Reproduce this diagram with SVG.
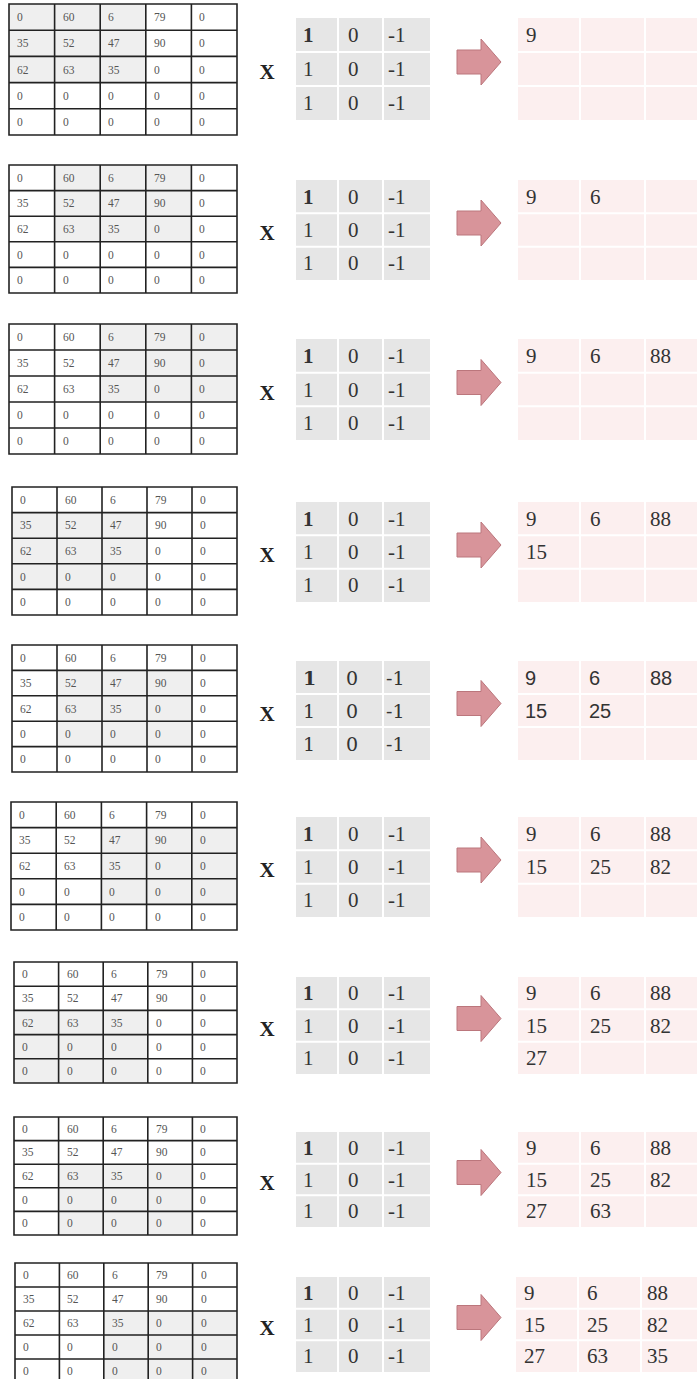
<svg xmlns="http://www.w3.org/2000/svg" width="697" height="1379" viewBox="0 0 697 1379">
<style>
.g{font-family:"Liberation Serif",serif;font-size:11.5px;fill:#555}
.k{font-family:"Liberation Serif",serif;font-size:21px;fill:#333}
.ks{font-family:"DejaVu Serif",serif;font-size:19px;fill:#333}
.os{font-family:"Liberation Sans",sans-serif;font-size:20px;fill:#333}
.x{font-family:"Liberation Serif",serif;font-size:21px;font-weight:bold;fill:#222;text-anchor:middle}
.gl{fill:none;stroke:#222;stroke-width:1.6}
.sh{fill:#efefef}
.kb{fill:#e6e6e6}
.ob{fill:#fcefef}
.sep{fill:none;stroke:#fff;stroke-width:2}
.ar{fill:#d8949a;stroke:#bb767c;stroke-width:1}
</style>
<rect width="697" height="1379" fill="#fff"/>

<!-- Panel 1 -->
<g id="p1-input">
<rect class="sh" x="9" y="4" width="136.8" height="78.6"/>
<path class="gl" d="M9,4H237V135H9Z M54.6,4V135 M100.2,4V135 M145.8,4V135 M191.4,4V135 M9,30.2H237 M9,56.4H237 M9,82.6H237 M9,108.8H237"/>
<text class="g" y="21"><tspan x="17">0</tspan><tspan x="63">60</tspan><tspan x="108">6</tspan><tspan x="154">79</tspan><tspan x="199">0</tspan></text>
<text class="g" y="47"><tspan x="17">35</tspan><tspan x="63">52</tspan><tspan x="108">47</tspan><tspan x="154">90</tspan><tspan x="199">0</tspan></text>
<text class="g" y="74"><tspan x="17">62</tspan><tspan x="63">63</tspan><tspan x="108">35</tspan><tspan x="154">0</tspan><tspan x="199">0</tspan></text>
<text class="g" y="100"><tspan x="17">0</tspan><tspan x="63">0</tspan><tspan x="108">0</tspan><tspan x="154">0</tspan><tspan x="199">0</tspan></text>
<text class="g" y="126"><tspan x="17">0</tspan><tspan x="63">0</tspan><tspan x="108">0</tspan><tspan x="154">0</tspan><tspan x="199">0</tspan></text>
</g>
<g id="p1-kernel">
<text class="x" x="267" y="79">X</text>
<rect class="kb" x="296" y="18" width="134" height="102"/>
<path class="sep" d="M338,18V120 M383,18V120 M296,52H430 M296,86H430"/>
<text class="k" y="42"><tspan x="303" font-weight="bold">1</tspan><tspan x="348">0</tspan><tspan x="388">-1</tspan></text>
<text class="k" y="76"><tspan x="303">1</tspan><tspan x="348">0</tspan><tspan x="388">-1</tspan></text>
<text class="k" y="110"><tspan x="303">1</tspan><tspan x="348">0</tspan><tspan x="388">-1</tspan></text>
</g>
<g id="p1-output">
<rect class="ob" x="518" y="18" width="182" height="102"/>
<path class="sep" d="M580,18V120 M645,18V120 M518,52H700 M518,86H700"/>
<text class="k" y="42"><tspan x="526">9</tspan></text>
</g>

<!-- Panel 2 -->
<g id="p2-input">
<rect class="sh" x="54.6" y="165" width="136.8" height="76.8"/>
<path class="gl" d="M9,165H237V293H9Z M54.6,165V293 M100.2,165V293 M145.8,165V293 M191.4,165V293 M9,190.6H237 M9,216.2H237 M9,241.8H237 M9,267.4H237"/>
<text class="g" y="182"><tspan x="17">0</tspan><tspan x="63">60</tspan><tspan x="108">6</tspan><tspan x="154">79</tspan><tspan x="199">0</tspan></text>
<text class="g" y="207"><tspan x="17">35</tspan><tspan x="63">52</tspan><tspan x="108">47</tspan><tspan x="154">90</tspan><tspan x="199">0</tspan></text>
<text class="g" y="233"><tspan x="17">62</tspan><tspan x="63">63</tspan><tspan x="108">35</tspan><tspan x="154">0</tspan><tspan x="199">0</tspan></text>
<text class="g" y="259"><tspan x="17">0</tspan><tspan x="63">0</tspan><tspan x="108">0</tspan><tspan x="154">0</tspan><tspan x="199">0</tspan></text>
<text class="g" y="284"><tspan x="17">0</tspan><tspan x="63">0</tspan><tspan x="108">0</tspan><tspan x="154">0</tspan><tspan x="199">0</tspan></text>
</g>
<g id="p2-kernel">
<text class="x" x="267" y="240">X</text>
<rect class="kb" x="296" y="180" width="134" height="100"/>
<path class="sep" d="M338,180V280 M383,180V280 M296,213.3H430 M296,246.7H430"/>
<text class="k" y="204"><tspan x="303" font-weight="bold">1</tspan><tspan x="348">0</tspan><tspan x="388">-1</tspan></text>
<text class="k" y="237"><tspan x="303">1</tspan><tspan x="348">0</tspan><tspan x="388">-1</tspan></text>
<text class="k" y="270"><tspan x="303">1</tspan><tspan x="348">0</tspan><tspan x="388">-1</tspan></text>
</g>
<g id="p2-output">
<rect class="ob" x="518" y="180" width="182" height="100"/>
<path class="sep" d="M580,180V280 M645,180V280 M518,213.3H700 M518,246.7H700"/>
<text class="k" y="204"><tspan x="526">9</tspan><tspan x="590">6</tspan></text>
</g>

<!-- Panel 3 -->
<g id="p3-input">
<rect class="sh" x="100.2" y="324" width="136.8" height="78"/>
<path class="gl" d="M9,324H237V454H9Z M54.6,324V454 M100.2,324V454 M145.8,324V454 M191.4,324V454 M9,350H237 M9,376H237 M9,402H237 M9,428H237"/>
<text class="g" y="341"><tspan x="17">0</tspan><tspan x="63">60</tspan><tspan x="108">6</tspan><tspan x="154">79</tspan><tspan x="199">0</tspan></text>
<text class="g" y="367"><tspan x="17">35</tspan><tspan x="63">52</tspan><tspan x="108">47</tspan><tspan x="154">90</tspan><tspan x="199">0</tspan></text>
<text class="g" y="393"><tspan x="17">62</tspan><tspan x="63">63</tspan><tspan x="108">35</tspan><tspan x="154">0</tspan><tspan x="199">0</tspan></text>
<text class="g" y="419"><tspan x="17">0</tspan><tspan x="63">0</tspan><tspan x="108">0</tspan><tspan x="154">0</tspan><tspan x="199">0</tspan></text>
<text class="g" y="445"><tspan x="17">0</tspan><tspan x="63">0</tspan><tspan x="108">0</tspan><tspan x="154">0</tspan><tspan x="199">0</tspan></text>
</g>
<g id="p3-kernel">
<text class="x" x="267" y="399.5">X</text>
<rect class="kb" x="296" y="339" width="134" height="101"/>
<path class="sep" d="M338,339V440 M383,339V440 M296,372.7H430 M296,406.3H430"/>
<text class="k" y="363"><tspan x="303" font-weight="bold">1</tspan><tspan x="348">0</tspan><tspan x="388">-1</tspan></text>
<text class="k" y="396.5"><tspan x="303">1</tspan><tspan x="348">0</tspan><tspan x="388">-1</tspan></text>
<text class="k" y="430"><tspan x="303">1</tspan><tspan x="348">0</tspan><tspan x="388">-1</tspan></text>
</g>
<g id="p3-output">
<rect class="ob" x="518" y="339" width="182" height="101"/>
<path class="sep" d="M580,339V440 M645,339V440 M518,372.7H700 M518,406.3H700"/>
<text class="k" y="363"><tspan x="526">9</tspan><tspan x="590">6</tspan><tspan x="650">88</tspan></text>
</g>

<!-- Panel 4 -->
<g id="p4-input">
<rect class="sh" x="12" y="512.6" width="135" height="76.8"/>
<path class="gl" d="M12,487H237V615H12Z M57,487V615 M102,487V615 M147,487V615 M192,487V615 M12,512.6H237 M12,538.2H237 M12,563.8H237 M12,589.4H237"/>
<text class="g" y="504"><tspan x="20">0</tspan><tspan x="65">60</tspan><tspan x="110">6</tspan><tspan x="155">79</tspan><tspan x="200">0</tspan></text>
<text class="g" y="529"><tspan x="20">35</tspan><tspan x="65">52</tspan><tspan x="110">47</tspan><tspan x="155">90</tspan><tspan x="200">0</tspan></text>
<text class="g" y="555"><tspan x="20">62</tspan><tspan x="65">63</tspan><tspan x="110">35</tspan><tspan x="155">0</tspan><tspan x="200">0</tspan></text>
<text class="g" y="581"><tspan x="20">0</tspan><tspan x="65">0</tspan><tspan x="110">0</tspan><tspan x="155">0</tspan><tspan x="200">0</tspan></text>
<text class="g" y="606"><tspan x="20">0</tspan><tspan x="65">0</tspan><tspan x="110">0</tspan><tspan x="155">0</tspan><tspan x="200">0</tspan></text>
</g>
<g id="p4-kernel">
<text class="x" x="267" y="562">X</text>
<rect class="kb" x="296" y="502" width="134" height="100"/>
<path class="sep" d="M338,502V602 M383,502V602 M296,535.3H430 M296,568.7H430"/>
<text class="k" y="526"><tspan x="303" font-weight="bold">1</tspan><tspan x="348">0</tspan><tspan x="388">-1</tspan></text>
<text class="k" y="559"><tspan x="303">1</tspan><tspan x="348">0</tspan><tspan x="388">-1</tspan></text>
<text class="k" y="592"><tspan x="303">1</tspan><tspan x="348">0</tspan><tspan x="388">-1</tspan></text>
</g>
<g id="p4-output">
<rect class="ob" x="518" y="502" width="182" height="100"/>
<path class="sep" d="M580,502V602 M645,502V602 M518,535.3H700 M518,568.7H700"/>
<text class="k" y="526"><tspan x="526">9</tspan><tspan x="590">6</tspan><tspan x="650">88</tspan></text>
<text class="k" y="559"><tspan x="526">15</tspan></text>
</g>

<!-- Panel 5 -->
<g id="p5-input">
<rect class="sh" x="57" y="670.4" width="135" height="76.2"/>
<path class="gl" d="M12,645H237V772H12Z M57,645V772 M102,645V772 M147,645V772 M192,645V772 M12,670.4H237 M12,695.8H237 M12,721.2H237 M12,746.6H237"/>
<text class="g" y="662"><tspan x="20">0</tspan><tspan x="65">60</tspan><tspan x="110">6</tspan><tspan x="155">79</tspan><tspan x="200">0</tspan></text>
<text class="g" y="687"><tspan x="20">35</tspan><tspan x="65">52</tspan><tspan x="110">47</tspan><tspan x="155">90</tspan><tspan x="200">0</tspan></text>
<text class="g" y="712.5"><tspan x="20">62</tspan><tspan x="65">63</tspan><tspan x="110">35</tspan><tspan x="155">0</tspan><tspan x="200">0</tspan></text>
<text class="g" y="738"><tspan x="20">0</tspan><tspan x="65">0</tspan><tspan x="110">0</tspan><tspan x="155">0</tspan><tspan x="200">0</tspan></text>
<text class="g" y="763"><tspan x="20">0</tspan><tspan x="65">0</tspan><tspan x="110">0</tspan><tspan x="155">0</tspan><tspan x="200">0</tspan></text>
</g>
<g id="p5-kernel">
<text class="x" x="267" y="720.5">X</text>
<rect class="kb" x="296" y="661" width="134" height="99"/>
<path class="sep" d="M338,661V760 M383,661V760 M296,694H430 M296,727H430"/>
<text class="ks" y="684.5"><tspan x="303" font-weight="bold">1</tspan><tspan x="346">0</tspan><tspan x="386">-1</tspan></text>
<text class="ks" y="717.5"><tspan x="303">1</tspan><tspan x="346">0</tspan><tspan x="386">-1</tspan></text>
<text class="ks" y="750.5"><tspan x="303">1</tspan><tspan x="346">0</tspan><tspan x="386">-1</tspan></text>
</g>
<g id="p5-output">
<rect class="ob" x="518" y="661" width="182" height="99"/>
<path class="sep" d="M580,661V760 M645,661V760 M518,694H700 M518,727H700"/>
<text class="os" y="684.5"><tspan x="525">9</tspan><tspan x="589">6</tspan><tspan x="650">88</tspan></text>
<text class="os" y="717.5"><tspan x="525">15</tspan><tspan x="589">25</tspan></text>
</g>

<!-- Panel 6 -->
<g id="p6-input">
<rect class="sh" x="101.4" y="827.6" width="135.6" height="76.8"/>
<path class="gl" d="M11,802H237V930H11Z M56.2,802V930 M101.4,802V930 M146.6,802V930 M191.8,802V930 M11,827.6H237 M11,853.2H237 M11,878.8H237 M11,904.4H237"/>
<text class="g" y="819"><tspan x="19">0</tspan><tspan x="64">60</tspan><tspan x="109">6</tspan><tspan x="155">79</tspan><tspan x="200">0</tspan></text>
<text class="g" y="844"><tspan x="19">35</tspan><tspan x="64">52</tspan><tspan x="109">47</tspan><tspan x="155">90</tspan><tspan x="200">0</tspan></text>
<text class="g" y="870"><tspan x="19">62</tspan><tspan x="64">63</tspan><tspan x="109">35</tspan><tspan x="155">0</tspan><tspan x="200">0</tspan></text>
<text class="g" y="896"><tspan x="19">0</tspan><tspan x="64">0</tspan><tspan x="109">0</tspan><tspan x="155">0</tspan><tspan x="200">0</tspan></text>
<text class="g" y="921"><tspan x="19">0</tspan><tspan x="64">0</tspan><tspan x="109">0</tspan><tspan x="155">0</tspan><tspan x="200">0</tspan></text>
</g>
<g id="p6-kernel">
<text class="x" x="267" y="877">X</text>
<rect class="kb" x="296" y="817" width="134" height="100"/>
<path class="sep" d="M338,817V917 M383,817V917 M296,850.3H430 M296,883.7H430"/>
<text class="k" y="841"><tspan x="303" font-weight="bold">1</tspan><tspan x="348">0</tspan><tspan x="388">-1</tspan></text>
<text class="k" y="874"><tspan x="303">1</tspan><tspan x="348">0</tspan><tspan x="388">-1</tspan></text>
<text class="k" y="907"><tspan x="303">1</tspan><tspan x="348">0</tspan><tspan x="388">-1</tspan></text>
</g>
<g id="p6-output">
<rect class="ob" x="518" y="817" width="182" height="100"/>
<path class="sep" d="M580,817V917 M645,817V917 M518,850.3H700 M518,883.7H700"/>
<text class="k" y="841"><tspan x="526">9</tspan><tspan x="590">6</tspan><tspan x="650">88</tspan></text>
<text class="k" y="874"><tspan x="526">15</tspan><tspan x="590">25</tspan><tspan x="650">82</tspan></text>
</g>

<!-- Panel 7 -->
<g id="p7-input">
<rect class="sh" x="14" y="1010.4" width="133.8" height="72.6"/>
<path class="gl" d="M14,962H237V1083H14Z M58.6,962V1083 M103.2,962V1083 M147.8,962V1083 M192.4,962V1083 M14,986.2H237 M14,1010.4H237 M14,1034.6H237 M14,1058.8H237"/>
<text class="g" y="978"><tspan x="22">0</tspan><tspan x="67">60</tspan><tspan x="111">6</tspan><tspan x="156">79</tspan><tspan x="200">0</tspan></text>
<text class="g" y="1002"><tspan x="22">35</tspan><tspan x="67">52</tspan><tspan x="111">47</tspan><tspan x="156">90</tspan><tspan x="200">0</tspan></text>
<text class="g" y="1026.5"><tspan x="22">62</tspan><tspan x="67">63</tspan><tspan x="111">35</tspan><tspan x="156">0</tspan><tspan x="200">0</tspan></text>
<text class="g" y="1051"><tspan x="22">0</tspan><tspan x="67">0</tspan><tspan x="111">0</tspan><tspan x="156">0</tspan><tspan x="200">0</tspan></text>
<text class="g" y="1075"><tspan x="22">0</tspan><tspan x="67">0</tspan><tspan x="111">0</tspan><tspan x="156">0</tspan><tspan x="200">0</tspan></text>
</g>
<g id="p7-kernel">
<text class="x" x="267" y="1035.5">X</text>
<rect class="kb" x="296" y="977" width="134" height="97"/>
<path class="sep" d="M338,977V1074 M383,977V1074 M296,1009.3H430 M296,1041.7H430"/>
<text class="k" y="1000"><tspan x="303" font-weight="bold">1</tspan><tspan x="348">0</tspan><tspan x="388">-1</tspan></text>
<text class="k" y="1032.5"><tspan x="303">1</tspan><tspan x="348">0</tspan><tspan x="388">-1</tspan></text>
<text class="k" y="1065"><tspan x="303">1</tspan><tspan x="348">0</tspan><tspan x="388">-1</tspan></text>
</g>
<g id="p7-output">
<rect class="ob" x="518" y="977" width="182" height="97"/>
<path class="sep" d="M580,977V1074 M645,977V1074 M518,1009.3H700 M518,1041.7H700"/>
<text class="k" y="1000"><tspan x="526">9</tspan><tspan x="590">6</tspan><tspan x="650">88</tspan></text>
<text class="k" y="1032.5"><tspan x="526">15</tspan><tspan x="590">25</tspan><tspan x="650">82</tspan></text>
<text class="k" y="1065"><tspan x="526">27</tspan></text>
</g>

<!-- Panel 8 -->
<g id="p8-input">
<rect class="sh" x="58.6" y="1164.2" width="133.8" height="70.8"/>
<path class="gl" d="M14,1117H237V1235H14Z M58.6,1117V1235 M103.2,1117V1235 M147.8,1117V1235 M192.4,1117V1235 M14,1140.6H237 M14,1164.2H237 M14,1187.8H237 M14,1211.4H237"/>
<text class="g" y="1133"><tspan x="22">0</tspan><tspan x="67">60</tspan><tspan x="111">6</tspan><tspan x="156">79</tspan><tspan x="200">0</tspan></text>
<text class="g" y="1156"><tspan x="22">35</tspan><tspan x="67">52</tspan><tspan x="111">47</tspan><tspan x="156">90</tspan><tspan x="200">0</tspan></text>
<text class="g" y="1180"><tspan x="22">62</tspan><tspan x="67">63</tspan><tspan x="111">35</tspan><tspan x="156">0</tspan><tspan x="200">0</tspan></text>
<text class="g" y="1204"><tspan x="22">0</tspan><tspan x="67">0</tspan><tspan x="111">0</tspan><tspan x="156">0</tspan><tspan x="200">0</tspan></text>
<text class="g" y="1227"><tspan x="22">0</tspan><tspan x="67">0</tspan><tspan x="111">0</tspan><tspan x="156">0</tspan><tspan x="200">0</tspan></text>
</g>
<g id="p8-kernel">
<text class="x" x="267" y="1189.5">X</text>
<rect class="kb" x="296" y="1132" width="134" height="95"/>
<path class="sep" d="M338,1132V1227 M383,1132V1227 M296,1163.7H430 M296,1195.3H430"/>
<text class="k" y="1155"><tspan x="303" font-weight="bold">1</tspan><tspan x="348">0</tspan><tspan x="388">-1</tspan></text>
<text class="k" y="1186.5"><tspan x="303">1</tspan><tspan x="348">0</tspan><tspan x="388">-1</tspan></text>
<text class="k" y="1218"><tspan x="303">1</tspan><tspan x="348">0</tspan><tspan x="388">-1</tspan></text>
</g>
<g id="p8-output">
<rect class="ob" x="518" y="1132" width="182" height="95"/>
<path class="sep" d="M580,1132V1227 M645,1132V1227 M518,1163.7H700 M518,1195.3H700"/>
<text class="k" y="1155"><tspan x="526">9</tspan><tspan x="590">6</tspan><tspan x="650">88</tspan></text>
<text class="k" y="1186.5"><tspan x="526">15</tspan><tspan x="590">25</tspan><tspan x="650">82</tspan></text>
<text class="k" y="1218"><tspan x="526">27</tspan><tspan x="590">63</tspan></text>
</g>

<!-- Panel 9 -->
<g id="p9-input">
<rect class="sh" x="103.8" y="1311" width="133.2" height="72"/>
<path class="gl" d="M15,1263H237V1383H15Z M59.4,1263V1383 M103.8,1263V1383 M148.2,1263V1383 M192.6,1263V1383 M15,1287H237 M15,1311H237 M15,1335H237 M15,1359H237"/>
<text class="g" y="1279"><tspan x="23">0</tspan><tspan x="67">60</tspan><tspan x="112">6</tspan><tspan x="156">79</tspan><tspan x="201">0</tspan></text>
<text class="g" y="1303"><tspan x="23">35</tspan><tspan x="67">52</tspan><tspan x="112">47</tspan><tspan x="156">90</tspan><tspan x="201">0</tspan></text>
<text class="g" y="1327"><tspan x="23">62</tspan><tspan x="67">63</tspan><tspan x="112">35</tspan><tspan x="156">0</tspan><tspan x="201">0</tspan></text>
<text class="g" y="1351"><tspan x="23">0</tspan><tspan x="67">0</tspan><tspan x="112">0</tspan><tspan x="156">0</tspan><tspan x="201">0</tspan></text>
<text class="g" y="1375"><tspan x="23">0</tspan><tspan x="67">0</tspan><tspan x="112">0</tspan><tspan x="156">0</tspan><tspan x="201">0</tspan></text>
</g>
<g id="p9-kernel">
<text class="x" x="267" y="1334.5">X</text>
<rect class="kb" x="296" y="1277" width="134" height="95"/>
<path class="sep" d="M338,1277V1372 M383,1277V1372 M296,1308.7H430 M296,1340.3H430"/>
<text class="k" y="1300"><tspan x="303" font-weight="bold">1</tspan><tspan x="348">0</tspan><tspan x="388">-1</tspan></text>
<text class="k" y="1331.5"><tspan x="303">1</tspan><tspan x="348">0</tspan><tspan x="388">-1</tspan></text>
<text class="k" y="1363"><tspan x="303">1</tspan><tspan x="348">0</tspan><tspan x="388">-1</tspan></text>
</g>
<g id="p9-output">
<rect class="ob" x="516" y="1277" width="184" height="95"/>
<path class="sep" d="M578,1277V1372 M641,1277V1372 M516,1308.7H700 M516,1340.3H700"/>
<text class="k" y="1300"><tspan x="524">9</tspan><tspan x="587">6</tspan><tspan x="647">88</tspan></text>
<text class="k" y="1331.5"><tspan x="524">15</tspan><tspan x="587">25</tspan><tspan x="647">82</tspan></text>
<text class="k" y="1363"><tspan x="524">27</tspan><tspan x="587">63</tspan><tspan x="647">35</tspan></text>
</g>

<g id="connectors">
<path class="ar" d="M457,50H481V39L501,62L481,85V74H457Z"/>
<path class="ar" d="M457,211H481V200L501,223L481,246V235H457Z"/>
<path class="ar" d="M457,370.5H481V359.5L501,382.5L481,405.5V394.5H457Z"/>
<path class="ar" d="M457,533H481V522L501,545L481,568V557H457Z"/>
<path class="ar" d="M457,691.5H481V680.5L501,703.5L481,726.5V715.5H457Z"/>
<path class="ar" d="M457,848H481V837L501,860L481,883V872H457Z"/>
<path class="ar" d="M457,1006.5H481V995.5L501,1018.5L481,1041.5V1030.5H457Z"/>
<path class="ar" d="M457,1160.5H481V1149.5L501,1172.5L481,1195.5V1184.5H457Z"/>
<path class="ar" d="M457,1305.5H481V1294.5L501,1317.5L481,1340.5V1329.5H457Z"/>
</g>
</svg>
